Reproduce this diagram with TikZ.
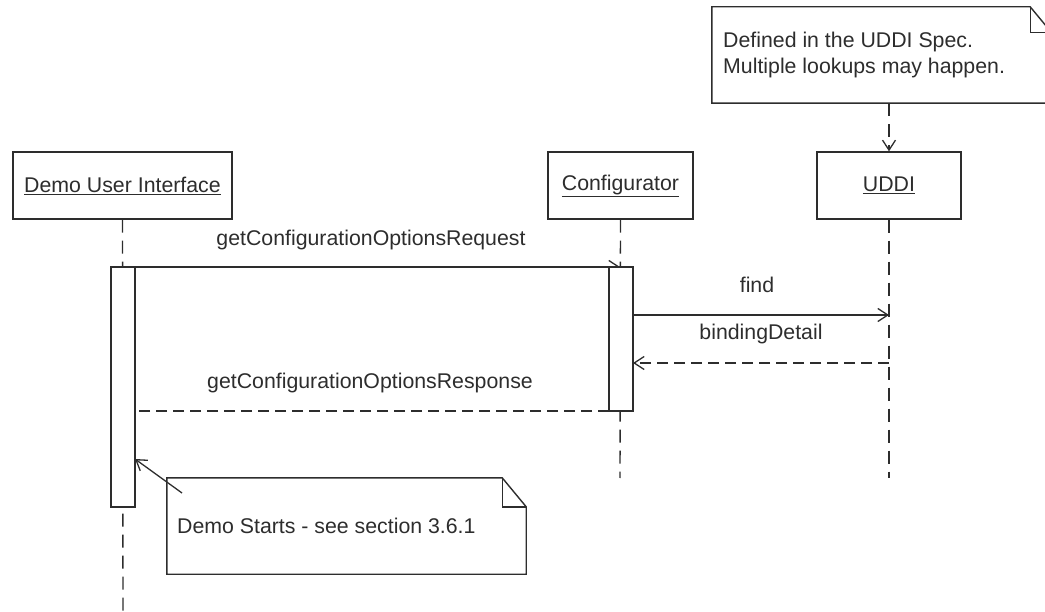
\documentclass[tikz,border=0pt]{standalone}
\usepackage{fontspec}
\setmainfont{Liberation Sans}
\usetikzlibrary{arrows.meta,calc}
\definecolor{ink}{RGB}{45,45,45}
\begin{document}
\begin{tikzpicture}[x=1pt,y=-1pt,
  every node/.style={font=\fontsize{21.3}{26}\selectfont, text=ink},
  obj/.style={draw=ink, line width=1.4pt, fill=white, minimum height=67pt, inner sep=0pt},
  bar/.style={draw=ink, line width=1.4pt, fill=white, minimum width=24pt, inner sep=0pt},
  life/.style={draw=ink, line width=1.4pt, dash pattern=on 13pt off 8pt},
  msg/.style={draw=ink, line width=1.3pt, -{Straight Barb[length=10pt,width=13pt,line width=1.3pt]}},
  ret/.style={msg, dash pattern=on 11pt off 6pt},
  notebox/.style={draw=none, inner sep=0pt},
  noteline/.style={draw=ink, line width=1.4pt, line join=miter},
  lbl/.style={inner sep=0pt}
]
\useasboundingbox (0,0) rectangle (1045,612);

% objects
\node[obj, minimum width=219pt] (dui) at (122.5,185.5) {\underline{Demo User Interface}};
\node[obj, minimum width=145pt] (conf) at (620.5,185.5) {\underline{Configurator}};
\node[obj, minimum width=144pt] (uddi) at (889,185.5) {\underline{UDDI}};

% lifeline ends
\coordinate (duiend) at (123,612);
\coordinate (confend) at (620,478);
\coordinate (uddiend) at (889,478);
\draw[life] (dui.south) -- (duiend);
\draw[life] (conf.south) -- (confend);
\draw[life] (uddi.south) -- (uddiend);

% message points
\coordinate (reqS) at (135,267);
\coordinate (reqE) at (620,267);
\coordinate (findS) at (633,315);
\coordinate (findE) at (889,315);
\coordinate (bdS) at (889,363);
\coordinate (bdE) at (633,363);
\coordinate (resS) at (609,411);
\coordinate (resE) at (123,411);

\draw[msg] (reqS) -- (reqE);
\draw[ret] (resS) -- (resE);

% activation bars
\node[bar, minimum height=240pt] (dbar) at (123,387) {};
\node[bar, minimum height=144pt] (cbar) at (621,339) {};

\draw[msg] (findS) -- (findE);
\draw[ret] (bdS) -- (bdE);

% labels
\node[lbl] (lreq) at (371,240) {getConfigurationOptionsRequest};
\node[lbl] (lres) at (370,383) {getConfigurationOptionsResponse};
\node[lbl] (lfind) at (757,285) {find};
\node[lbl] (lbd) at (761,334) {bindingDetail};

% note 1 (UDDI spec)
\node[notebox, minimum width=342pt, minimum height=96pt] (n1) at (883,55) {};
\draw[noteline] (n1.south west) -- (n1.north west) -- ($(n1.north east)+(-24,0)$)
  -- ($(n1.north east)+(0,29)$) -- (n1.south east) -- cycle;
\draw[noteline] ($(n1.north east)+(-24,0)$) -- ($(n1.north east)+(-24,26)$) -- ($(n1.north east)+(0,26)$);
\node[lbl, anchor=west, align=left, font=\fontsize{21.3}{26}\selectfont] (t1) at (723,55)
  {Defined in the UDDI Spec.\\Multiple lookups may happen.};
\draw[msg, dash pattern=on 13pt off 8pt] (n1.south -| uddi.north) -- (uddi.north);

% note 2 (demo starts)
\node[notebox, minimum width=359pt, minimum height=96pt] (n2) at (346.5,526) {};
\draw[noteline] (n2.south west) -- (n2.north west) -- ($(n2.north east)+(-24,0)$)
  -- ($(n2.north east)+(0,29)$) -- (n2.south east) -- cycle;
\draw[noteline] ($(n2.north east)+(-24,0)$) -- ($(n2.north east)+(-24,29)$) -- ($(n2.north east)+(0,29)$);
\node[lbl, anchor=west] (t2) at (177,526) {Demo Starts - see section 3.6.1};
\coordinate (n2a) at (182,493);
\coordinate (n2t) at (135,459);
\draw[msg] (n2a) -- (n2t);
\end{tikzpicture}
\end{document}
